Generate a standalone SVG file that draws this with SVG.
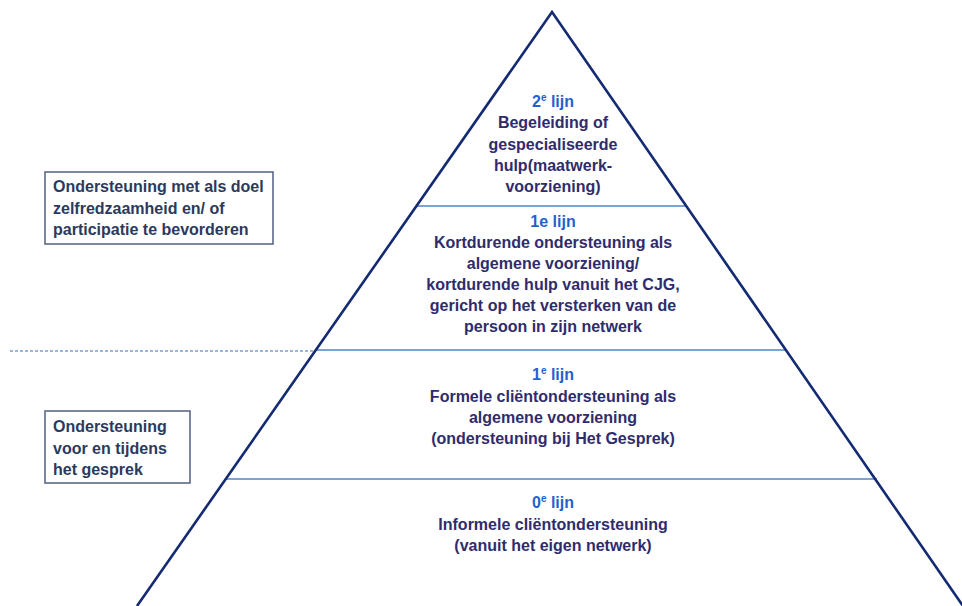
<svg xmlns="http://www.w3.org/2000/svg" width="962" height="606" viewBox="0 0 962 606">
<style>
.t{font-family:"Liberation Sans",Arial,sans-serif;font-size:16px;font-weight:bold;text-anchor:middle;fill:#2f2c6c}
.h{fill:#1f62cf}
.l{font-family:"Liberation Sans",Arial,sans-serif;font-size:16px;font-weight:bold;fill:#2b3a5c}
.box{fill:#fff;stroke:#5c6a88;stroke-width:1.6}
.div{stroke:#7fa2d4;stroke-width:2}
.sup{font-size:10px}
</style>
<rect width="962" height="606" fill="#fff"/>
<g id="connectors">
<line x1="10" y1="351" x2="315" y2="351" stroke="#9bb6dc" stroke-width="2" stroke-dasharray="3 2"/>
<line class="div" x1="417" y1="206" x2="687" y2="206"/>
<line class="div" x1="315" y1="350" x2="786" y2="350"/>
<line class="div" x1="226" y1="479" x2="877" y2="479"/>
</g>
<g id="pyramid">
<polyline points="137,606 552,12 963,606" fill="none" stroke="#142a72" stroke-width="2.6" stroke-linejoin="miter"/>
</g>
<g id="tier-2e-lijn">
<text class="t" x="553" y="107"><tspan class="h">2<tspan class="sup" dy="-6">e</tspan><tspan dy="6"> lijn</tspan></tspan></text>
<text class="t" x="553" y="128">Begeleiding of</text>
<text class="t" x="553" y="149.5">gespecialiseerde</text>
<text class="t" x="553" y="171">hulp(maatwerk-</text>
<text class="t" x="553" y="192">voorziening)</text>
</g>
<g id="tier-1e-lijn-kort">
<text class="t h" x="553" y="227">1e lijn</text>
<text class="t" x="553" y="248">Kortdurende ondersteuning als</text>
<text class="t" x="553" y="269">algemene voorziening/</text>
<text class="t" x="553" y="290">kortdurende hulp vanuit het CJG,</text>
<text class="t" x="553" y="311">gericht op het versterken van de</text>
<text class="t" x="553" y="332">persoon in zijn netwerk</text>
</g>
<g id="tier-1e-lijn-formeel">
<text class="t" x="553" y="380"><tspan class="h">1<tspan class="sup" dy="-6">e</tspan><tspan dy="6"> lijn</tspan></tspan></text>
<text class="t" x="553" y="402">Formele cliëntondersteuning als</text>
<text class="t" x="553" y="423">algemene voorziening</text>
<text class="t" x="553" y="444">(ondersteuning bij Het Gesprek)</text>
</g>
<g id="tier-0e-lijn">
<text class="t" x="553" y="508"><tspan class="h">0<tspan class="sup" dy="-6">e</tspan><tspan dy="6"> lijn</tspan></tspan></text>
<text class="t" x="553" y="530">Informele cliëntondersteuning</text>
<text class="t" x="553" y="551">(vanuit het eigen netwerk)</text>
</g>
<g id="box-zelfredzaamheid">
<rect class="box" x="45" y="172" width="228" height="72"/>
<text class="l" x="53" y="192">Ondersteuning met als doel</text>
<text class="l" x="53" y="213.5">zelfredzaamheid en/ of</text>
<text class="l" x="53" y="235">participatie te bevorderen</text>
</g>
<g id="box-gesprek">
<rect class="box" x="45" y="411" width="145" height="72"/>
<text class="l" x="53" y="432">Ondersteuning</text>
<text class="l" x="53" y="453.5">voor en tijdens</text>
<text class="l" x="53" y="474.5">het gesprek</text>
</g>
</svg>
